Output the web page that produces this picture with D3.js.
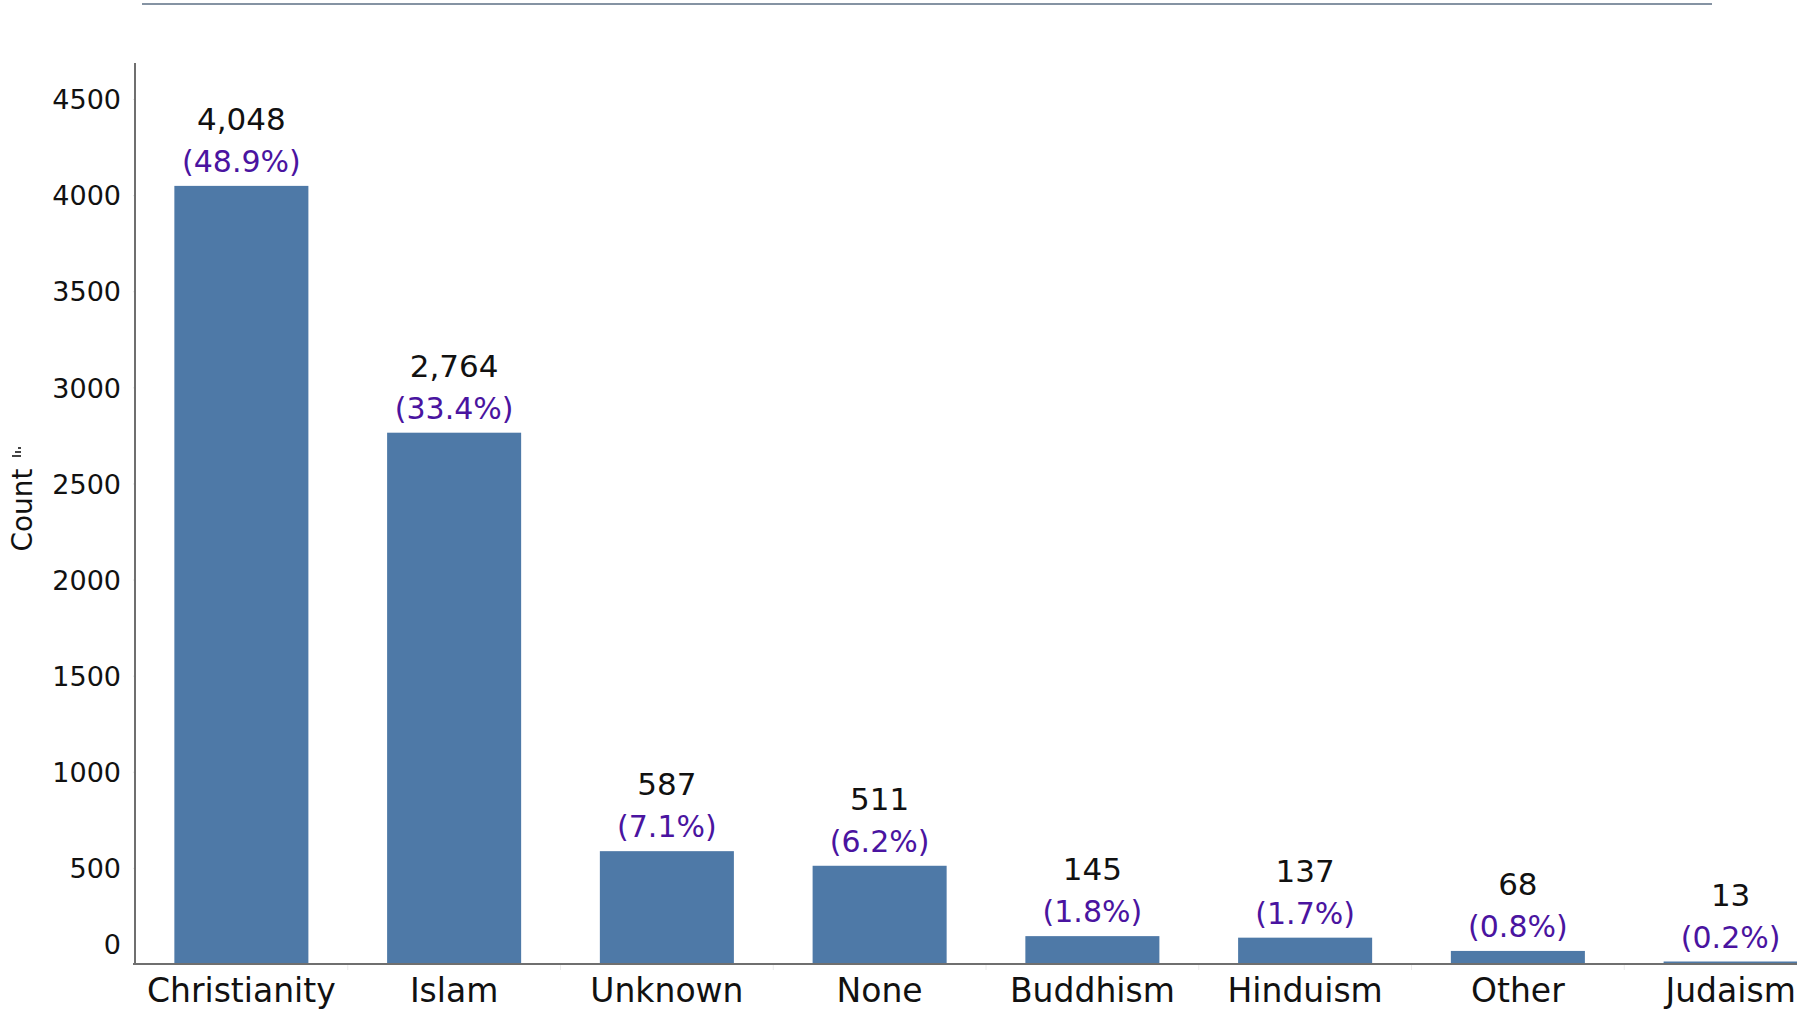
<!DOCTYPE html>
<html lang="en">
<head>
    <meta charset="UTF-8">
    <title>Religion count</title>
    <script src="https://d3js.org/d3.v7.min.js"></script>
    <style>
        body { margin: 0; background: #fff; overflow: hidden; }
        svg text { font-family: "DejaVu Sans", sans-serif; }
    </style>
</head>
<body>
    <div id="chart"></div>
    <script>
        // data
        const categories = ["Christianity", "Islam", "Unknown", "None", "Buddhism", "Hinduism", "Other", "Judaism"];
        const counts = [4048, 2764, 587, 511, 145, 137, 68, 13];
        const percents = [48.9, 33.4, 7.1, 6.2, 1.8, 1.7, 0.8, 0.2];
        const yTicks = [0, 500, 1000, 1500, 2000, 2500, 3000, 3500, 4000, 4500];

        const width = 1797, height = 1013;
        const left = 135, baseY = 964, topY = 99;

        const svg = d3.select("#chart").append("svg")
            .attr("width", width)
            .attr("height", height);

        // rule across the top
        svg.append("line")
            .attr("x1", 142).attr("x2", 1712)
            .attr("y1", 4).attr("y2", 4)
            .attr("stroke", "#8593a3")
            .attr("stroke-width", 2);

        const x = d3.scaleBand()
            .domain(categories)
            .range([left, left + 8 * 212.75])
            .paddingInner(0.37)
            .paddingOuter(0.185);

        const y = d3.scaleLinear()
            .domain([0, 4500])
            .range([baseY, topY]);

        // y axis
        const yAxis = svg.append("g")
            .attr("transform", `translate(${left},0)`)
            .call(d3.axisLeft(y).tickValues(yTicks).tickSize(10).tickPadding(4).tickFormat(d3.format("d")));
        yAxis.select(".domain").remove();
        yAxis.selectAll(".tick line").attr("stroke", "#e6e6e6").attr("x2", -2);
        yAxis.selectAll(".tick text")
            .attr("font-size", 27)
            .attr("fill", "#111")
            .attr("dy", d => d === 0 ? "-0.4em" : "0.36em");

        svg.append("line")
            .attr("x1", left).attr("x2", left)
            .attr("y1", 63).attr("y2", baseY)
            .attr("stroke", "#6f6f6f")
            .attr("stroke-width", 2);

        // bars
        const rows = categories.map((c, i) => ({ name: c, value: counts[i], pct: percents[i] }));

        svg.selectAll("rect.bar")
            .data(rows)
            .join("rect")
            .attr("class", "bar")
            .attr("x", d => x(d.name))
            .attr("y", d => y(d.value))
            .attr("width", x.bandwidth())
            .attr("height", d => baseY - y(d.value))
            .attr("fill", "#4e79a7");

        // x axis
        const xAxis = svg.append("g")
            .attr("transform", `translate(0,${baseY})`)
            .call(d3.axisBottom(x).tickSize(0).tickPadding(15));
        xAxis.select(".domain").remove();
        xAxis.selectAll(".tick text")
            .attr("font-size", 33)
            .attr("fill", "#111");

        // faint separators between bands
        svg.selectAll("line.sep")
            .data(categories.slice(1))
            .join("line")
            .attr("class", "sep")
            .attr("x1", d => x(d) - x.step() * x.paddingInner() / 2)
            .attr("x2", d => x(d) - x.step() * x.paddingInner() / 2)
            .attr("y1", baseY).attr("y2", baseY + 6)
            .attr("stroke", "#ececec");

        svg.append("line")
            .attr("x1", left - 2).attr("x2", width)
            .attr("y1", baseY).attr("y2", baseY)
            .attr("stroke", "#6f6f6f")
            .attr("stroke-width", 2);

        // labels above bars
        const fmt = d3.format(",");
        svg.selectAll("text.val")
            .data(rows)
            .join("text")
            .attr("class", "val")
            .attr("x", d => x(d.name) + x.bandwidth() / 2)
            .attr("y", d => y(d.value) - 56)
            .attr("text-anchor", "middle")
            .attr("font-size", 31)
            .attr("fill", "#111")
            .text(d => fmt(d.value));

        svg.selectAll("text.pct")
            .data(rows)
            .join("text")
            .attr("class", "pct")
            .attr("x", d => x(d.name) + x.bandwidth() / 2)
            .attr("y", d => y(d.value) - 14)
            .attr("text-anchor", "middle")
            .attr("font-size", 30)
            .attr("fill", "#4a14a0")
            .text(d => `(${d.pct.toFixed(1)}%)`);

        // y title with its small icon
        const title = svg.append("g").attr("transform", "translate(32,510) rotate(-90)");
        title.append("text")
            .attr("text-anchor", "middle")
            .attr("font-size", 28)
            .attr("fill", "#111")
            .text("Count");
        title.selectAll("rect")
            .data([[0, 9], [4, 6], [8, 3]])
            .join("rect")
            .attr("x", d => 53 + d[0])
            .attr("y", d => -20 - d[1] + 9)
            .attr("width", 2)
            .attr("height", d => d[1])
            .attr("fill", "#444");
    </script>
</body>
</html>
